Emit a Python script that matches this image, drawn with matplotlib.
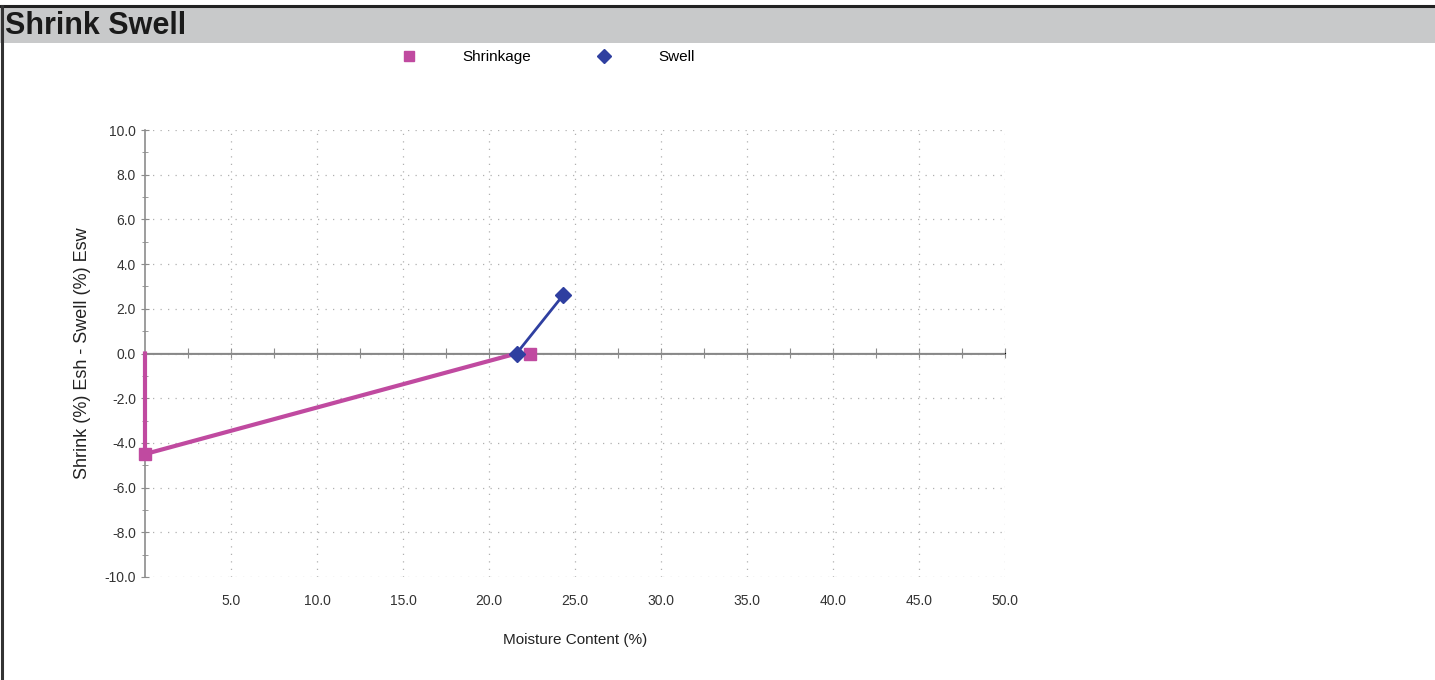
import numpy as np
import matplotlib
matplotlib.use("Agg")
import matplotlib.pyplot as plt
from matplotlib.patches import Rectangle
from matplotlib.lines import Line2D

plt.rcParams['font.family'] = ['Liberation Sans', 'DejaVu Sans']

# data
shrink_line_x = [0.0, 0.0, 21.6]
shrink_line_y = [0.0, -4.5, 0.0]
shrink_pts_x = [0.0, 22.4]
shrink_pts_y = [-4.5, 0.0]
swell_x = [21.6, 24.3]
swell_y = [0.0, 2.6]

x_ticks = [5, 10, 15, 20, 25, 30, 35, 40, 45, 50]
y_ticks = [-10, -8, -6, -4, -2, 0, 2, 4, 6, 8, 10]

pink = '#c04aa0'
blue = '#2f3fa0'
axis_gray = '#8c8c8c'

fig = plt.figure(figsize=(14.35, 6.8), dpi=100)

# frame + title bar
fig.patches.append(Rectangle((0, 1 - 43 / 680.), 1, 36 / 680., transform=fig.transFigure,
                             facecolor='#c8c9ca', edgecolor='none', zorder=0))
fig.add_artist(Line2D([0, 1], [1 - 6 / 680.] * 2, transform=fig.transFigure,
                      color='#222222', lw=2.2))
fig.add_artist(Line2D([1.5 / 1435.] * 2, [0, 1 - 6 / 680.], transform=fig.transFigure,
                      color='#333333', lw=2.2))
fig.text(5 / 1435., 1 - 26 / 680., 'Shrink Swell', fontsize=22, fontweight='bold',
         va='center', ha='left', color='#1a1a1a')

ax = fig.add_axes([145 / 1435., 1 - 577 / 680., 860 / 1435., 447 / 680.])
ax.set_xlim(0, 50)
ax.set_ylim(-10, 10)

for s in ['top', 'right', 'bottom']:
    ax.spines[s].set_visible(False)
ax.spines['left'].set_color(axis_gray)
ax.spines['left'].set_linewidth(1.2)

ax.set_xticks(x_ticks)
ax.set_xticklabels(['%.1f' % v for v in x_ticks])
ax.set_yticks(y_ticks)
ax.set_yticklabels(['%.1f' % v for v in y_ticks])
ax.set_yticks(np.arange(-9, 10, 2), minor=True)
ax.tick_params(axis='x', length=0, labelsize=10, pad=12, colors='#333333')
ax.tick_params(axis='y', which='major', length=6, direction='inout', color=axis_gray,
               labelsize=10, labelcolor='#333333')
ax.tick_params(axis='y', which='minor', length=4, direction='inout', color=axis_gray)

ax.grid(True, which='major', linestyle=(0, (1, 5)), color='#b0b0b0', linewidth=0.9)

# zero line with its own ticks
ax.axhline(0, color=axis_gray, lw=1.4, zorder=2)
zx = ax.secondary_xaxis(0.5)
zx.set_xticks(np.arange(2.5, 50.1, 2.5))
zx.set_xticklabels([])
zx.tick_params(length=7, direction='inout', color=axis_gray)
zx.spines['bottom'].set_visible(False)

ax.plot(shrink_line_x, shrink_line_y, color=pink, lw=3, zorder=3, clip_on=False)
ax.plot(shrink_pts_x, shrink_pts_y, linestyle='none', marker='s', markersize=8,
        color=pink, zorder=4, clip_on=False)
ax.plot(swell_x, swell_y, color=blue, lw=2, marker='D', markersize=8, zorder=5,
        clip_on=False)

ax.set_xlabel('Moisture Content (%)', fontsize=11, labelpad=18, color='#222222')
ax.set_ylabel('Shrink (%) Esh - Swell (%) Esw', fontsize=13, labelpad=10, color='#222222')

handles = [Line2D([], [], linestyle='none', marker='s', markersize=7, color=pink),
           Line2D([], [], linestyle='none', marker='D', markersize=7, color=blue)]
fig.legend(handles, ['Shrinkage', 'Swell'], loc='center', ncol=2, frameon=False,
           bbox_to_anchor=(544 / 1435., 1 - 57 / 680.), fontsize=11,
           columnspacing=3.8, handletextpad=2.5)

fig.savefig('out.png', dpi=100)
